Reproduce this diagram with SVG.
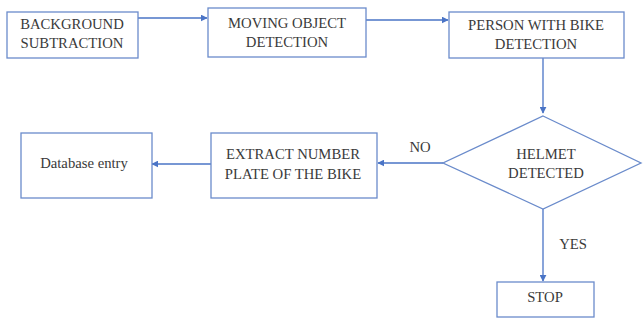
<svg xmlns="http://www.w3.org/2000/svg" width="643" height="321" viewBox="0 0 643 321">
<style>
.box{fill:#fff;stroke:#6a8bcb;stroke-width:1.3}
.t{font-family:"Liberation Serif","DejaVu Serif",serif;font-size:14.7px;fill:#3a3a3a;text-anchor:middle}
.c{stroke:#4a74c6;stroke-width:1.3;fill:none}
</style>
<defs>
<marker id="a" viewBox="0 0 10 10" refX="9" refY="5" markerWidth="7" markerHeight="7" markerUnits="userSpaceOnUse" orient="auto">
<path d="M0,0L10,5L0,10z" fill="#4a74c6"/>
</marker>
</defs>
<rect width="643" height="321" fill="#fff"/>
<g id="connectors">
<line class="c" x1="138" y1="18" x2="207" y2="18" marker-end="url(#a)"/>
<line class="c" x1="366" y1="20" x2="448" y2="20" marker-end="url(#a)"/>
<line class="c" x1="543" y1="46" x2="543" y2="113" marker-end="url(#a)"/>
<line class="c" x1="443" y1="163" x2="378" y2="163" marker-end="url(#a)"/>
<line class="c" x1="211" y1="164" x2="152" y2="164" marker-end="url(#a)"/>
<line class="c" x1="543" y1="209" x2="543" y2="281" marker-end="url(#a)"/>
<text class="t" x="420" y="152">NO</text>
<text class="t" x="573" y="249">YES</text>
</g>
<g id="bg">
<rect class="box" x="7" y="12" width="131" height="46"/>
<text class="t" x="72" y="29">BACKGROUND</text>
<text class="t" x="72" y="48">SUBTRACTION</text>
</g>
<g id="moving">
<rect class="box" x="208" y="8" width="158" height="49"/>
<text class="t" x="287" y="28">MOVING OBJECT</text>
<text class="t" x="287" y="47">DETECTION</text>
</g>
<g id="person">
<rect class="box" x="449" y="12" width="175" height="46"/>
<text class="t" x="536" y="30">PERSON WITH BIKE</text>
<text class="t" x="536" y="49">DETECTION</text>
</g>
<g id="helmet">
<polygon class="box" points="543,116 641,163 543,209 443,163"/>
<text class="t" x="546" y="159">HELMET</text>
<text class="t" x="546" y="178">DETECTED</text>
</g>
<g id="extract">
<rect class="box" x="211" y="133" width="166" height="65"/>
<text class="t" x="293" y="159">EXTRACT NUMBER</text>
<text class="t" x="293" y="179">PLATE OF THE BIKE</text>
</g>
<g id="db">
<rect class="box" x="21" y="133" width="131" height="65"/>
<text class="t" x="84" y="168">Database entry</text>
</g>
<g id="stop">
<rect class="box" x="497" y="282" width="97" height="35"/>
<text class="t" x="545" y="302">STOP</text>
</g>
</svg>
